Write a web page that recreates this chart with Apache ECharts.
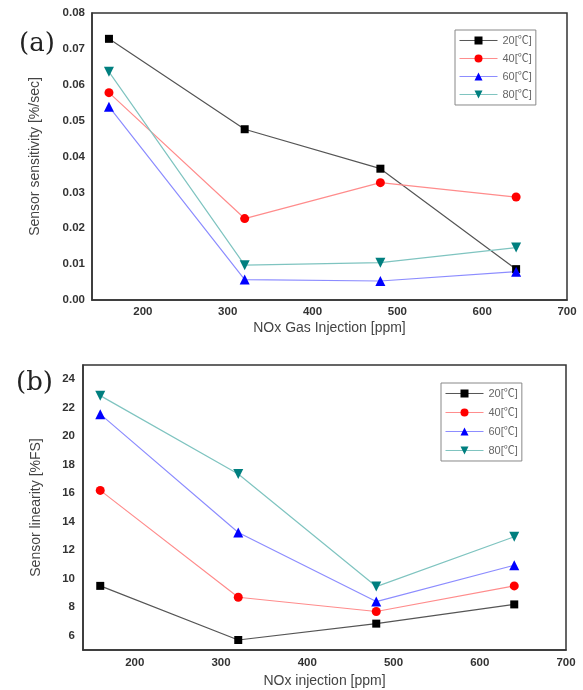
<!DOCTYPE html>
<html>
<head>
<meta charset="utf-8">
<script src="https://cdn.jsdelivr.net/npm/echarts@6/dist/echarts.min.js"></script>
<style>
  html, body { margin: 0; padding: 0; background: #fff; }
  #chart { width: 583px; height: 690px; }
</style>
</head>
<body>
<div id="chart"></div>
<script>
// NOx injection levels (ppm)
var injection = [160, 320, 480, 640];
var tempNames = ["20[℃]", "40[℃]", "60[℃]", "80[℃]"];

// (a) sensor sensitivity [%/sec]
var sens20 = [0.0728, 0.0476, 0.0366, 0.0086];
var sens40 = [0.0578, 0.0227, 0.0327, 0.0287];
var sens60 = [0.0539, 0.0057, 0.0053, 0.0079];
var sens80 = [0.0636, 0.0097, 0.0104, 0.0146];

// (b) sensor linearity [%FS]
var lin20 = [9.5, 5.7, 6.85, 8.2];
var lin40 = [16.2, 8.7, 7.7, 9.5];
var lin60 = [21.55, 13.25, 8.4, 10.95];
var lin80 = [22.85, 17.35, 9.45, 12.95];

var markerColors = ["#000000", "#ff0000", "#0000ff", "#007f7f"];
var lineColors = ["#555555", "#ff8c8c", "#8c8cff", "#7fc4c0"];
var symbols = ["rect", "circle", "triangle", "triangle"];
var rotates = [0, 0, 0, 180];
var sizes = [8, 9, 10, 10];

function pairs(vals) {
  return injection.map(function (x, i) { return [x, vals[i]]; });
}

function makeSeries(name, vals, k, idx) {
  return {
    name: name,
    type: "line",
    xAxisIndex: idx,
    yAxisIndex: idx,
    data: pairs(vals),
    symbol: symbols[k],
    symbolRotate: rotates[k],
    symbolSize: sizes[k],
    itemStyle: { color: markerColors[k] },
    lineStyle: { color: lineColors[k], width: 1.2 },
    animation: false
  };
}

var labelStyle = { color: "#333", fontSize: 11.5, fontWeight: "bold", fontFamily: "Arial, Liberation Sans, sans-serif" };
var nameStyle = { color: "#444", fontSize: 14, fontFamily: "Arial, Liberation Sans, sans-serif" };
var legendText = { color: "#666", fontSize: 11, fontFamily: "Liberation Sans, Noto Sans CJK KR, sans-serif" };

function xAxisCfg(idx, name, gap, margin) {
  return {
    gridIndex: idx,
    type: "value",
    min: 140, max: 700, interval: 20,
    name: name, nameLocation: "middle", nameGap: gap, nameTextStyle: nameStyle,
    axisLine: { show: true, lineStyle: { color: "#333", width: 1.5 } },
    axisTick: { show: false },
    splitLine: { show: false },
    axisLabel: Object.assign({
      margin: margin,
      formatter: function (v) { return v % 100 === 0 ? String(v) : ""; },
      showMinLabel: false
    }, labelStyle)
  };
}

function legendCfg(left, top, gap) {
  return {
    data: tempNames.map(function (n) { return { name: n }; }),
    orient: "vertical", left: left, top: top,
    itemWidth: 38, itemHeight: 10, itemGap: gap,
    padding: [5, 4, 5, 4],
    borderColor: "#888", borderWidth: 1, backgroundColor: "#fff",
    lineStyle: { width: 1 },
    textStyle: legendText,
    selectedMode: false
  };
}

var chart = echarts.init(document.getElementById("chart"));
chart.setOption({
  backgroundColor: "#fff",
  title: [
    { text: "(a)", left: 14, top: 26, textStyle: { fontFamily: "DejaVu Serif, Liberation Serif, serif", fontSize: 26, fontWeight: "normal", color: "#222" } },
    { text: "(b)", left: 11, top: 365, textStyle: { fontFamily: "DejaVu Serif, Liberation Serif, serif", fontSize: 26, fontWeight: "normal", color: "#222" } }
  ],
  grid: [
    { left: 92, right: 16, top: 13, height: 287, show: true, borderColor: "#333", borderWidth: 1.5, backgroundColor: "#fff" },
    { left: 83, right: 17, top: 365, height: 285, show: true, borderColor: "#333", borderWidth: 1.5, backgroundColor: "#fff" }
  ],
  legend: [
    legendCfg(455, 30, 7),
    legendCfg(441, 383, 8)
  ],
  xAxis: [
    xAxisCfg(0, "NOx Gas Injection [ppm]", 21, 6),
    xAxisCfg(1, "NOx injection [ppm]", 24, 7)
  ],
  yAxis: [
    {
      gridIndex: 0, type: "value", min: 0, max: 0.08, interval: 0.01,
      name: "Sensor sensitivity [%/sec]", nameLocation: "middle", nameGap: 50, nameTextStyle: nameStyle,
      axisLine: { show: true, lineStyle: { color: "#333", width: 1.5 } },
      axisTick: { show: false }, splitLine: { show: false },
      axisLabel: Object.assign({ margin: 7, formatter: function (v) { return v.toFixed(2); } }, labelStyle)
    },
    {
      gridIndex: 1, type: "value", min: 5, max: 25, interval: 1,
      name: "Sensor linearity [%FS]", nameLocation: "middle", nameGap: 40, nameTextStyle: nameStyle,
      axisLine: { show: true, lineStyle: { color: "#333", width: 1.5 } },
      axisTick: { show: false }, splitLine: { show: false },
      axisLabel: Object.assign({ margin: 8, formatter: function (v) { return v % 2 === 0 ? String(v) : ""; } }, labelStyle)
    }
  ],
  series: [
    makeSeries(tempNames[0], sens20, 0, 0),
    makeSeries(tempNames[1], sens40, 1, 0),
    makeSeries(tempNames[2], sens60, 2, 0),
    makeSeries(tempNames[3], sens80, 3, 0),
    makeSeries(tempNames[0], lin20, 0, 1),
    makeSeries(tempNames[1], lin40, 1, 1),
    makeSeries(tempNames[2], lin60, 2, 1),
    makeSeries(tempNames[3], lin80, 3, 1)
  ]
});
</script>
</body>
</html>
